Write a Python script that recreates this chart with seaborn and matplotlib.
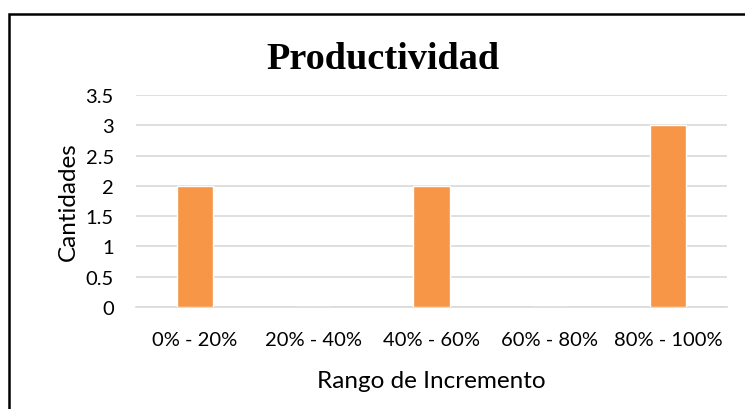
import matplotlib
matplotlib.use("Agg")
import matplotlib.pyplot as plt
import seaborn as sns
import pandas as pd
from matplotlib.patches import Rectangle

categories = ["0% - 20%", "20% - 40%", "40% - 60%", "60% - 80%", "80% - 100%"]
values = [2, 0, 2, 0, 3]
yticks = [0, 0.5, 1, 1.5, 2, 2.5, 3, 3.5]

sns.set_theme(style="white")
plt.rcParams["font.family"] = ["Lato", "DejaVu Sans"]

df = pd.DataFrame({"Rango": categories, "Cantidad": values})

W, H = 745, 410
fig = plt.figure(figsize=(W / 100, H / 100), dpi=100)
ax = fig.add_axes([136 / W, 1 - 308 / H, (727 - 136) / W, (308 - 96) / H])

sns.barplot(data=df, x="Rango", y="Cantidad", color="#F79646", saturation=1,
            width=0.31, ax=ax, zorder=3)

ax.set_ylim(0, 3.5)
ax.set_yticks(yticks)
ax.set_yticklabels([f"{t:g}" for t in yticks], fontsize=14.5, color="black")
ax.set_xticks(range(len(categories)))
ax.set_xticklabels(categories, fontsize=14.5, color="black")
ax.tick_params(axis="both", length=0)
ax.tick_params(axis="x", pad=17)
ax.tick_params(axis="y", pad=16)
ax.yaxis.grid(True, color="#D9D9D9", linewidth=1.2, zorder=0)
ax.set_axisbelow(True)
for s in ["top", "right", "left"]:
    ax.spines[s].set_visible(False)
ax.spines["bottom"].set_color("#D9D9D9")
ax.spines["bottom"].set_linewidth(1.2)

ax.set_xlabel("Rango de Incremento", fontsize=17.5, color="black", labelpad=16)
ax.set_ylabel("Cantidades", fontsize=17.5, color="black", labelpad=5)

fig.text(383 / W, 1 - 69 / H, "Productividad", ha="center", va="baseline",
         fontsize=27.5, fontweight="bold", family=["Liberation Serif", "DejaVu Serif"],
         color="black")

fig.add_artist(Rectangle((8.5 / W, -0.2), 2, 1 - 14.5 / H + 0.2,
                         transform=fig.transFigure, fill=False,
                         edgecolor="black", linewidth=1.8))

fig.savefig("out.png", dpi=100)
